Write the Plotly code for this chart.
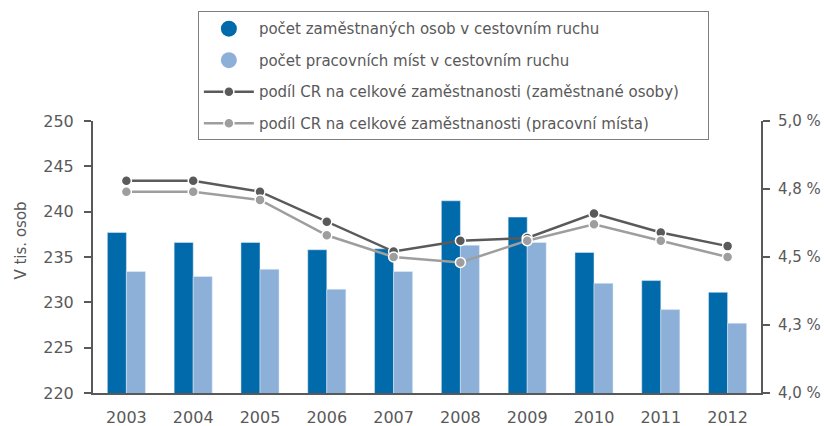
import plotly.graph_objects as go

years = ["2003", "2004", "2005", "2006", "2007", "2008", "2009", "2010", "2011", "2012"]
zamestnane_osoby = [237.7, 236.6, 236.6, 235.8, 235.9, 241.2, 239.4, 235.5, 232.4, 231.1]
pracovni_mista = [233.4, 232.85, 233.65, 231.45, 233.4, 236.3, 236.6, 232.1, 229.2, 227.7]
podil_osoby = [4.78, 4.78, 4.74, 4.63, 4.52, 4.56, 4.57, 4.66, 4.59, 4.54]
podil_mista = [4.74, 4.74, 4.71, 4.58, 4.50, 4.48, 4.56, 4.62, 4.56, 4.50]

left_ticks = [220, 225, 230, 235, 240, 245, 250]
right_tickvals = [4.0, 4.25, 4.5, 4.75, 5.0]
right_ticktext = ["4,0 %", "4,3 %", "4,5 %", "4,8 %", "5,0 %"]

names = [
    "počet zaměstnaných osob v cestovním ruchu",
    "počet pracovních míst v cestovním ruchu",
    "podíl CR na celkové zaměstnanosti (zaměstnané osoby)",
    "podíl CR na celkové zaměstnanosti (pracovní místa)",
]

DARK = "#006AAB"
LIGHT = "#8DB0D8"
LINE_DARK = "#5a5a5a"
LINE_LIGHT = "#9e9e9e"
TXT = "#595959"
FONT = "DejaVu Sans"
PAD = "\u00a0" * 5  # right padding inside the legend box

fig = go.Figure()
fig.add_trace(go.Bar(x=years, y=zamestnane_osoby, marker_color=DARK, showlegend=False, name=names[0]))
fig.add_trace(go.Bar(x=years, y=pracovni_mista, marker_color=LIGHT, showlegend=False, name=names[1]))
# legend entries with round symbols
fig.add_trace(go.Scatter(x=[None], y=[None], mode="markers", legendgroup="a",
                         marker=dict(color=DARK, size=22, symbol="circle"), name=names[0]))
fig.add_trace(go.Scatter(x=[None], y=[None], mode="markers", legendgroup="b",
                         marker=dict(color=LIGHT, size=22, symbol="circle"), name=names[1]))
fig.add_trace(go.Scatter(x=years, y=podil_osoby, yaxis="y2", mode="lines+markers", name=names[2] + PAD,
                         legendgroup="c", line=dict(color=LINE_DARK, width=2.5),
                         marker=dict(color=LINE_DARK, size=10, line=dict(color="white", width=1.5))))
fig.add_trace(go.Scatter(x=years, y=podil_mista, yaxis="y2", mode="lines+markers", name=names[3],
                         legendgroup="d", line=dict(color=LINE_LIGHT, width=2.5),
                         marker=dict(color=LINE_LIGHT, size=10, line=dict(color="white", width=1.5))))

fig.update_layout(
    width=824, height=426,
    margin=dict(l=93, r=63, t=121, b=33, autoexpand=False),
    paper_bgcolor="white", plot_bgcolor="white",
    font=dict(family=FONT, size=15, color=TXT),
    barmode="group", bargap=0.43, bargroupgap=0,
    xaxis=dict(range=[-0.5, 9.5], showline=True, linecolor=TXT, linewidth=2, ticks="",
               tickfont=dict(size=16, color=TXT), ticklabelstandoff=9, automargin=False,
               showgrid=False, zeroline=False),
    yaxis=dict(range=[220, 250], tickvals=left_ticks, showline=True, linecolor=TXT, linewidth=2,
               ticks="outside", ticklen=7, tickcolor=TXT, tickwidth=2, showgrid=False, zeroline=False,
               tickfont=dict(size=16, color=TXT), ticklabelstandoff=7, automargin=False),
    yaxis2=dict(range=[4.0, 5.0], overlaying="y", side="right", tickvals=right_tickvals, ticktext=right_ticktext,
                showline=True, linecolor=TXT, linewidth=2, ticks="outside", ticklen=7, tickcolor=TXT, tickwidth=2,
                showgrid=False, zeroline=False, tickfont=dict(size=15, color=TXT), ticklabelstandoff=5,
                automargin=False),
    legend=dict(x=0.157, y=1.403, xanchor="left", yanchor="top", bordercolor="#7f7f7f", borderwidth=1,
                bgcolor="white", font=dict(size=15, color=TXT), itemwidth=50, traceorder="grouped",
                tracegroupgap=9),
    annotations=[dict(text="V tis. osob", xref="paper", yref="paper", x=-0.108, y=0.56, textangle=-90,
                      showarrow=False, font=dict(size=15, color=TXT), xanchor="center", yanchor="middle")],
)

fig.write_html("out.html", config={"displayModeBar": False},
               post_script="document.body.style.margin='0px';")
